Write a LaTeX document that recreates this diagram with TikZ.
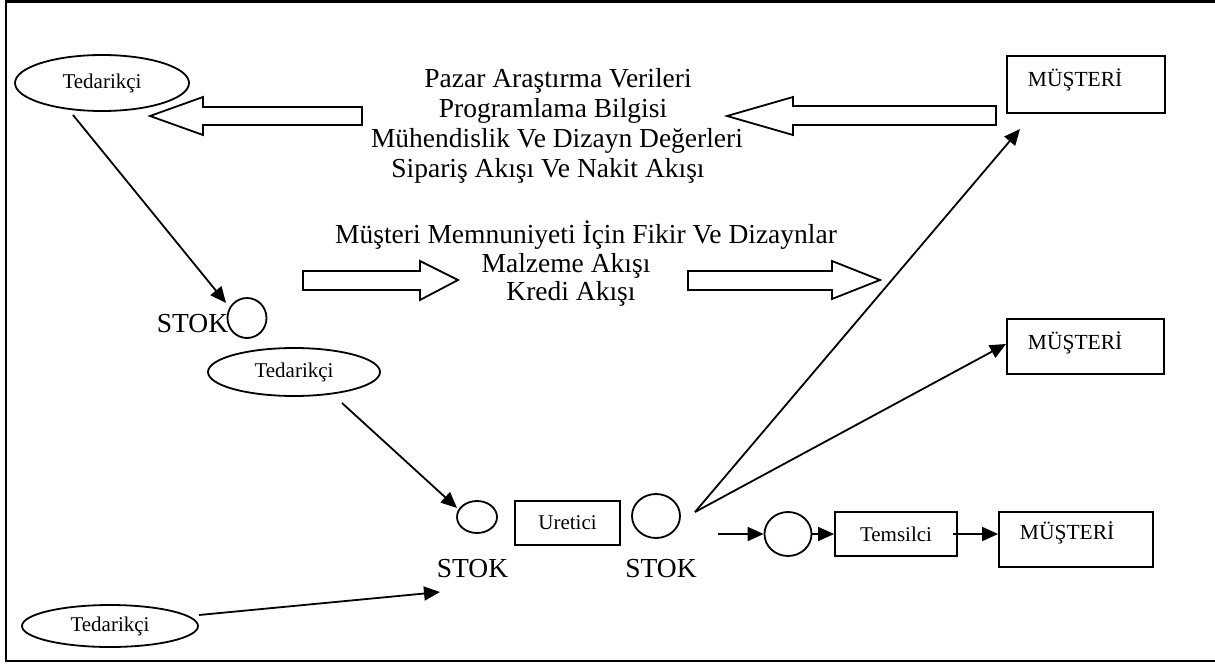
\documentclass[tikz,border=0pt]{standalone}
\usepackage{fontspec}
\setmainfont{Liberation Serif}
\usetikzlibrary{shapes.geometric,arrows.meta}
\begin{document}
\begin{tikzpicture}[x=1pt,y=-1pt,
  line width=1.8pt,
  big/.style={font=\fontsize{27.5}{31}\selectfont, inner sep=0pt},
  small/.style={font=\fontsize{21.5}{25}\selectfont, inner sep=0pt},
  oval/.style={ellipse, draw, inner sep=0pt, font=\fontsize{21}{25}\selectfont},
  box/.style={rectangle, draw, inner sep=0pt, font=\fontsize{21}{25}\selectfont},
  flow/.style={draw, line width=1.8pt, fill=white},
  conn/.style={-{Triangle[length=16pt,width=14pt]}, line width=1.8pt}
]
\useasboundingbox (0,0) rectangle (1215,664);
% frame (right side lies outside the picture)
\draw[line width=2.6pt] (1240,1.5) -- (6,1.5) -- (6,661) -- (1240,661);

% suppliers
\node[oval, minimum width=174pt, minimum height=56pt] (ted1) at (102,83) {Tedarikçi};
\node[oval, minimum width=172pt, minimum height=48pt] (ted2) at (294,372) {Tedarikçi};
\node[oval, minimum width=176pt, minimum height=42pt] (ted3) at (110,626) {Tedarikçi};

% stock circles
\node[oval, minimum width=39pt, minimum height=40pt] (s1) at (247,318) {};
\node[oval, minimum width=40pt, minimum height=32pt] (s2) at (477,517) {};
\node[oval, minimum width=48pt, minimum height=44pt] (s3) at (656,516) {};
\node[oval, minimum width=47pt, minimum height=44pt] (s4) at (788,534) {};

\node[big, anchor=base] (stok1) at (192.5,332) {STOK};
\node[big, anchor=base] (stok2) at (472.5,577) {STOK};
\node[big, anchor=base] (stok3) at (661,577) {STOK};

% boxes
\node[box, minimum width=105pt, minimum height=44pt] (ur) at (567.5,523) {Uretici};
\node[box, minimum width=122pt, minimum height=44pt] (tem) at (896,534) {Temsilci};
\node[box, minimum width=158pt, minimum height=57pt] (m1) at (1086,84.5) {};
\node[box, minimum width=157pt, minimum height=55pt] (m2) at (1085.5,346.5) {};
\node[box, minimum width=154pt, minimum height=55pt] (m3) at (1076,539.5) {};
\node[small, anchor=west] (m1t) at (1027,80) {MÜŞTERİ};
\node[small, anchor=west] (m2t) at (1027,343) {MÜŞTERİ};
\node[small, anchor=west] (m3t) at (1019,533) {MÜŞTERİ};

% hollow flow arrows
\draw[flow] (362,107) -- (203,107) -- (203,97) -- (150,116) -- (203,135) -- (203,125) -- (362,125) -- cycle;
\draw[flow] (996,106) -- (793,106) -- (793,97) -- (727,116) -- (793,135) -- (793,125) -- (996,125) -- cycle;
\draw[flow] (303,271) -- (420,271) -- (420,261) -- (458,280) -- (420,300) -- (420,290) -- (303,290) -- cycle;
\draw[flow] (688,271) -- (832,271) -- (832,261) -- (880,280) -- (832,299) -- (832,290) -- (688,290) -- cycle;

% texts
\node[big, anchor=base] (t1) at (558,87) {Pazar Araştırma Verileri};
\node[big, anchor=base] (t2) at (553,117) {Programlama Bilgisi};
\node[big, anchor=base] (t3) at (557,147) {Mühendislik Ve Dizayn Değerleri};
\node[big, anchor=base] (t4) at (548,177) {Sipariş Akışı Ve Nakit Akışı};
\node[big, anchor=base] (t5) at (586,243) {Müşteri Memnuniyeti İçin Fikir Ve Dizaynlar};
\node[big, anchor=base] (t6) at (566,272) {Malzeme Akışı};
\node[big, anchor=base] (t7) at (571,300) {Kredi Akışı};

% connector endpoints
\coordinate (a1s) at (73,115);
\coordinate (a1e) at (226,303);
\coordinate (a2s) at (342,403);
\coordinate (a2e) at (457,508);
\coordinate (a3s) at (199,615);
\coordinate (a3e) at (440,592);
\coordinate (fork) at (695,512);
\coordinate (a4e) at (1020,129);
\coordinate (a5e) at (1006,344);
\coordinate (a6s) at (718,534);
\coordinate (a8s) at (953,534);

\draw[conn] (a1s) -- (a1e);
\draw[conn] (a2s) -- (a2e);
\draw[conn] (a3s) -- (a3e);
\draw[conn] (fork) -- (a4e);
\draw[conn] (fork) -- (a5e);
\draw[conn] (a6s) -- (s4.west);
\draw[conn] (s4.east) -- (tem.west);
\draw[conn] (a8s) -- (m3.west |- a8s);
\end{tikzpicture}
\end{document}
